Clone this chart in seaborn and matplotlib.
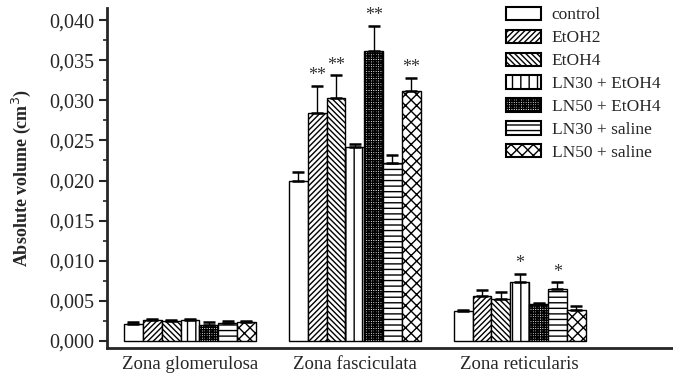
import matplotlib
matplotlib.use('Agg')
import matplotlib.pyplot as plt
import seaborn as sns
import pandas as pd
from matplotlib.ticker import MultipleLocator, FuncFormatter

zones = ['Zona glomerulosa', 'Zona fasciculata', 'Zona reticularis']
groups = ['control', 'EtOH2', 'EtOH4', 'LN30 + EtOH4', 'LN50 + EtOH4',
          'LN30 + saline', 'LN50 + saline']

# mean values per group, one list per zone
glomerulosa = [0.0021, 0.0026, 0.0025, 0.0026, 0.0020, 0.0022, 0.0024]
fasciculata = [0.0199, 0.0284, 0.0303, 0.0242, 0.0362, 0.0222, 0.0312]
reticularis = [0.0037, 0.0056, 0.0052, 0.0073, 0.0046, 0.0065, 0.0039]

glomerulosa_err = [0.0003, 0.0001, 0.0001, 0.0001, 0.0003, 0.0003, 0.0001]
fasciculata_err = [0.0012, 0.0034, 0.0028, 0.0004, 0.0031, 0.0010, 0.0016]
reticularis_err = [0.0002, 0.0007, 0.0009, 0.0011, 0.0001, 0.0008, 0.0005]

glomerulosa_sig = ['', '', '', '', '', '', '']
fasciculata_sig = ['', '**', '**', '', '**', '', '**']
reticularis_sig = ['', '', '', '*', '', '*', '']

hatches = ['', '//////', '\\\\\\\\\\\\', '||', '+++++++', '---', 'xxx']

rows = []
for zone, vals, errs, sigs in zip(zones,
                                  [glomerulosa, fasciculata, reticularis],
                                  [glomerulosa_err, fasciculata_err, reticularis_err],
                                  [glomerulosa_sig, fasciculata_sig, reticularis_sig]):
    for g, v, e, s in zip(groups, vals, errs, sigs):
        rows.append({'zone': zone, 'group': g, 'value': v, 'err': e, 'sig': s})
df = pd.DataFrame(rows)

sns.set_style('ticks')
plt.rcParams['font.family'] = ['Liberation Serif', 'DejaVu Serif']
plt.rcParams['hatch.linewidth'] = 1.0

fig = plt.figure(figsize=(6.73, 3.83), dpi=100)
ax = fig.add_axes([0.159, 0.091, 0.841, 0.888])

sns.barplot(data=df, x='zone', y='value', hue='group', order=zones,
            hue_order=groups, color='white', edgecolor='black', linewidth=1.0,
            width=0.8, errorbar=None, ax=ax, legend=True)

for cont, h, g in zip(ax.containers, hatches, groups):
    sub = df[df['group'] == g].set_index('zone').loc[zones]
    for patch, (_, r) in zip(cont.patches, sub.iterrows()):
        patch.set_hatch(h)
        patch.set_facecolor('white')
        patch.set_edgecolor('black')
        cx = patch.get_x() + patch.get_width() / 2
        top = patch.get_height()
        ax.errorbar(cx, top, yerr=[[0], [r['err']]], fmt='none',
                    ecolor='black', elinewidth=1.0, capsize=4.5, capthick=1.8)
        if r['sig']:
            ax.text(cx, top + r['err'] + 0.0002, r['sig'], ha='center',
                    va='bottom', fontsize=13, color='#333333')

ax.set_xlim(-0.503, 2.93)
ax.set_ylim(-0.0009, 0.0415)
ax.yaxis.set_major_locator(MultipleLocator(0.005))
ax.yaxis.set_minor_locator(MultipleLocator(0.0025))
ax.yaxis.set_major_formatter(FuncFormatter(lambda v, p: f'{v:.3f}'.replace('.', ',')))
ax.tick_params(axis='y', which='major', length=6, width=1.5, labelsize=14.5, pad=3)
ax.tick_params(axis='y', which='minor', length=3, width=1.2)
ax.tick_params(axis='x', length=0, labelsize=13.5, pad=6)
ax.set_xlabel('')
ax.set_ylabel('Absolute volume (cm$^3$)', fontsize=13, fontweight='bold', labelpad=12)
sns.despine(ax=ax)
for s in ['left', 'bottom']:
    ax.spines[s].set_linewidth(2)

leg = ax.legend(loc='upper right', bbox_to_anchor=(1.005, 1.05), frameon=False,
                fontsize=12.5, handlelength=2.05, handleheight=0.8,
                labelspacing=0.36, handletextpad=0.6)
for h, hatch in zip(leg.legend_handles, hatches):
    h.set_hatch(hatch)
    h.set_facecolor('white')
    h.set_edgecolor('black')
    h.set_linewidth(1.5)

fig.savefig('out.png', dpi=100)
